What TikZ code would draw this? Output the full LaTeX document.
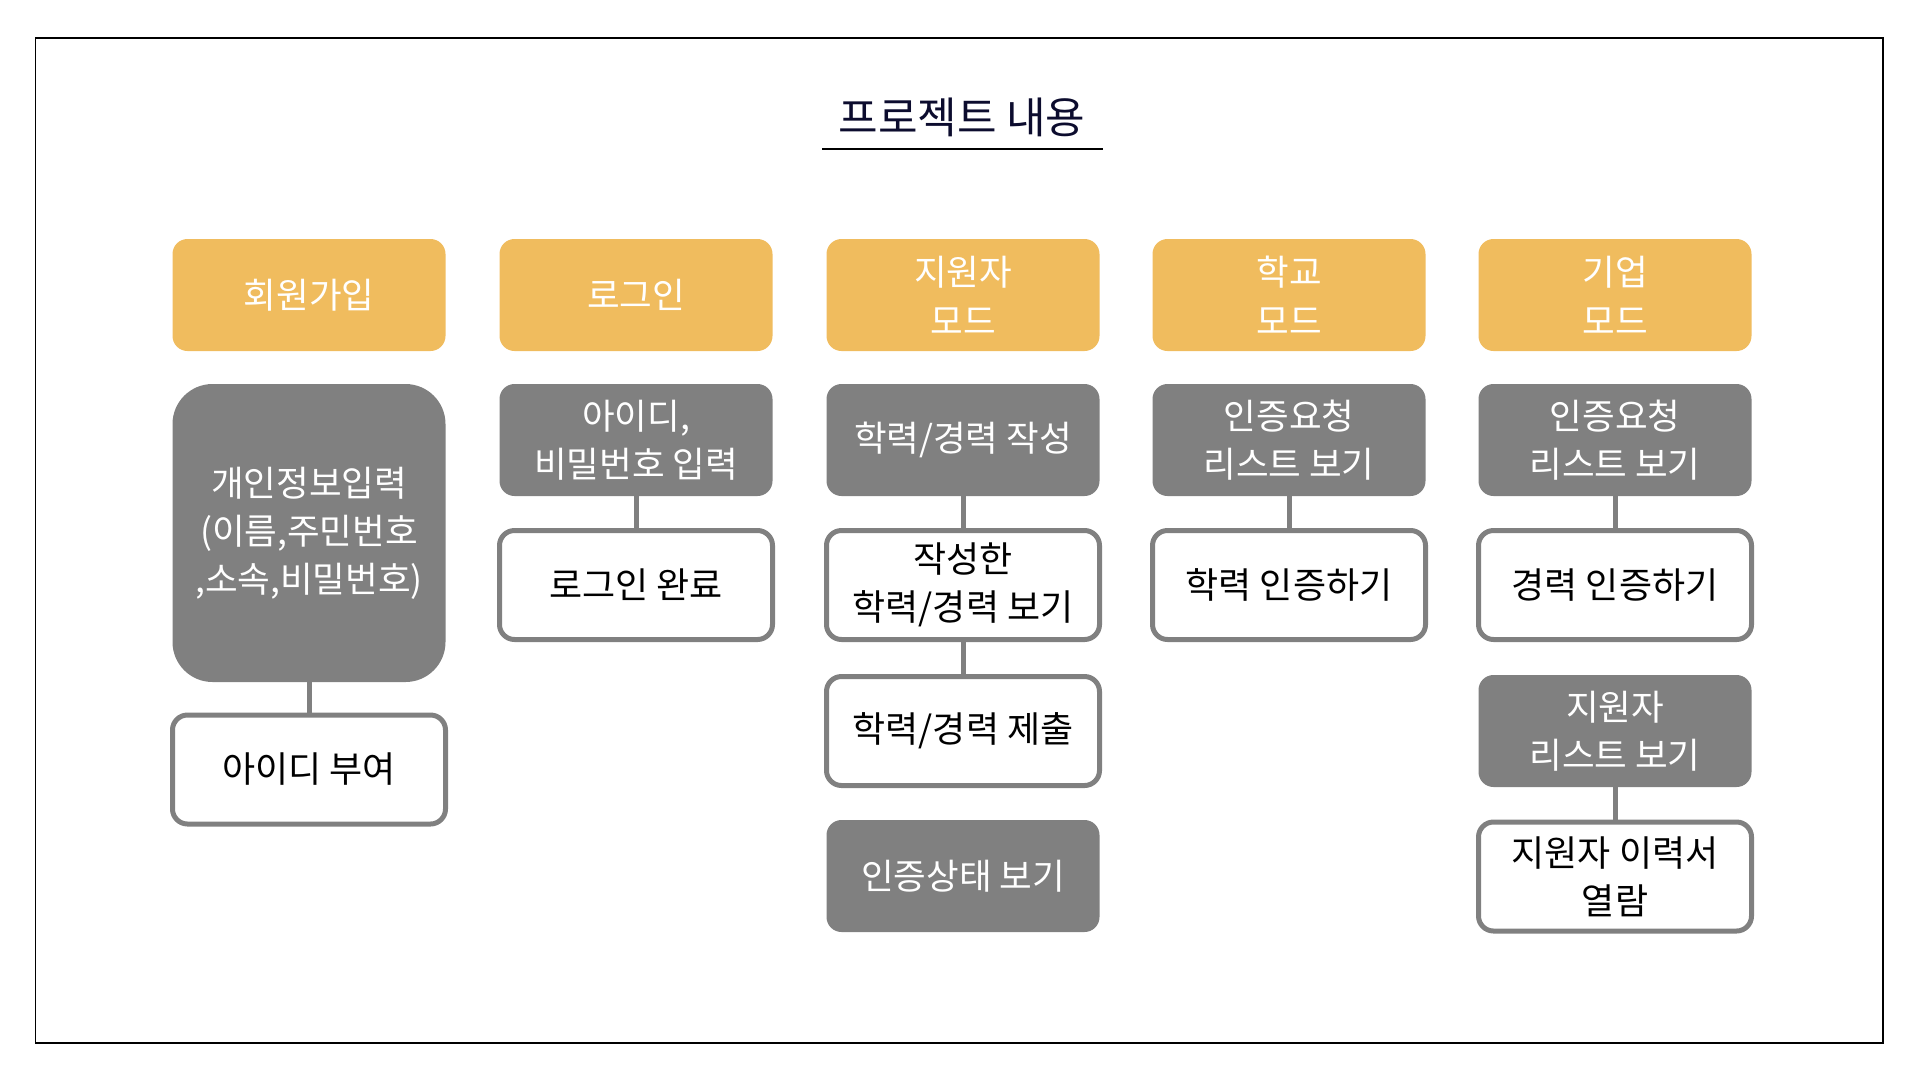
\documentclass[tikz,border=0pt]{standalone}
\usepackage{fontspec}
\setmainfont{Noto Sans CJK KR}
\definecolor{hdr}{HTML}{F0BC5E}
\definecolor{gbox}{HTML}{808080}
\definecolor{ttl}{HTML}{0C0C2E}
\begin{document}
\begin{tikzpicture}[x=1pt,y=-1pt,
 hdrbox/.style={fill=hdr, draw=none, rounded corners=15pt, minimum width=273pt, minimum height=112pt, text=white, align=center, inner sep=0pt, font=\fontsize{35.5}{49}\selectfont},
 graybox/.style={fill=gbox, draw=none, rounded corners=15pt, minimum width=273pt, minimum height=112pt, text=white, align=center, inner sep=0pt, font=\fontsize{35.5}{48}\selectfont},
 whitebox/.style={fill=white, draw=gbox, line width=5pt, rounded corners=15pt, minimum width=273pt, minimum height=109pt, text=black, align=center, inner sep=0pt, font=\fontsize{36}{48}\selectfont},
 link/.style={draw=gbox, line width=5pt}]
\useasboundingbox (0,0) rectangle (1920,1080);
\draw[line width=1.5pt, black] (35.5,38) rectangle (1883,1043);
\node[font=\fontsize{43}{48}\selectfont, text=ttl, inner sep=0pt] (title) at (962,117) {프로젝트 내용};
\draw[line width=2pt, black] (822,148.5) -- (1103,148.5);

% headers
\node[hdrbox] (h1) at (309,295) {회원가입};
\node[hdrbox] (h2) at (636,295) {로그인};
\node[hdrbox] (h3) at (963,295) {지원자\\모드};
\node[hdrbox] (h4) at (1289,295) {학교\\모드};
\node[hdrbox] (h5) at (1615,295) {기업\\모드};

% column 1
\node[graybox, minimum height=298pt, rounded corners=40pt] (c1a) at (309,533) {개인정보입력\\(이름,주민번호\\,소속,비밀번호)};
\node[whitebox] (c1b) at (309,769.5) {아이디 부여};
\draw[link] (c1a) -- (c1b);

% column 2
\node[graybox] (c2a) at (636,440) {아이디,\\비밀번호 입력};
\node[whitebox] (c2b) at (636,585) {로그인 완료};
\draw[link] (c2a) -- (c2b);

% column 3
\node[graybox] (c3a) at (963,440) {학력/경력 작성};
\node[whitebox] (c3b) at (963,585) {작성한\\학력/경력 보기};
\node[whitebox] (c3c) at (963,731) {학력/경력 제출};
\node[graybox] (c3d) at (963,876) {인증상태 보기};
\draw[link] (c3a) -- (c3b);
\draw[link] (c3b) -- (c3c);

% column 4
\node[graybox] (c4a) at (1289,440) {인증요청\\리스트 보기};
\node[whitebox] (c4b) at (1289,585) {학력 인증하기};
\draw[link] (c4a) -- (c4b);

% column 5
\node[graybox] (c5a) at (1615,440) {인증요청\\리스트 보기};
\node[whitebox] (c5b) at (1615,585) {경력 인증하기};
\node[graybox] (c5c) at (1615,731) {지원자\\리스트 보기};
\node[whitebox] (c5d) at (1615,876.5) {지원자 이력서\\열람};
\draw[link] (c5a) -- (c5b);
\draw[link] (c5c) -- (c5d);
\end{tikzpicture}
\end{document}
